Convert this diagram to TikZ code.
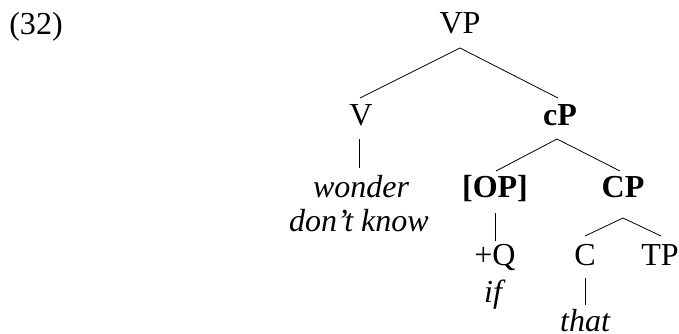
\documentclass[tikz,border=0pt]{standalone}
\usepackage{fontspec}
\setmainfont{Liberation Serif}
\begin{document}
\begin{tikzpicture}[x=1pt,y=-1pt,
  lbl/.style={anchor=base,inner sep=0pt,font=\fontsize{32}{36}\selectfont},
  bl/.style={lbl,font=\fontsize{32}{36}\selectfont\bfseries},
  il/.style={lbl,font=\fontsize{32}{36}\selectfont\itshape},
  edge/.style={line width=0.8pt}]
\useasboundingbox (0,0) rectangle (679,333);
\node[lbl] (num) at (36,34) {(32)};
\node[lbl] (VP) at (460,33) {VP};
\node[lbl] (V) at (361,125) {V};
\node[bl] (cP) at (560,125) {cP};
\node[il] (w1) at (361,197) {wonder};
\node[il] (w2) at (359,231) {don't know};
\node[bl] (OP) at (495,197) {[OP]};
\node[bl] (CP) at (623,197) {CP};
\node[lbl] (Q) at (495,265) {+Q};
\node[il] (if) at (493,302) {if};
\node[lbl] (C) at (585,265) {C};
\node[lbl] (TP) at (660,265) {TP};
\node[il] (that) at (585,331) {that};
\draw[edge] ([yshift=-15pt]VP.base) -- ([xshift=-1pt,yshift=27pt]V.base);
\draw[edge] ([yshift=-15pt]VP.base) -- ([xshift=-2pt,yshift=27pt]cP.base);
\draw[edge] ([xshift=-2pt,yshift=-14pt]V.base) -- ([xshift=-2pt,yshift=29pt]w1.base);
\draw[edge] ([xshift=-3pt,yshift=-14pt]cP.base) -- ([xshift=1pt,yshift=26pt]OP.base);
\draw[edge] ([xshift=-3pt,yshift=-14pt]cP.base) -- ([xshift=-3pt,yshift=26pt]CP.base);
\draw[edge] ([yshift=-16pt]OP.base) -- ([yshift=24pt]Q.base);
\draw[edge] ([yshift=-21pt]CP.base) -- ([yshift=29pt]C.base);
\draw[edge] ([yshift=-21pt]CP.base) -- ([xshift=1pt,yshift=29pt]TP.base);
\draw[edge] ([yshift=-13pt]C.base) -- ([yshift=26pt]that.base);
\end{tikzpicture}
\end{document}
